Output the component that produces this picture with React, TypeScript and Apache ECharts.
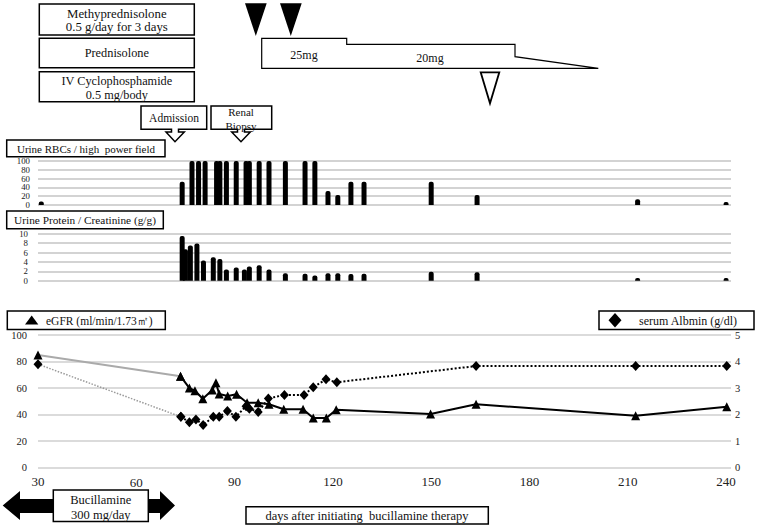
import React, { useEffect, useRef } from "react";
import * as echarts from "echarts";

const FONT = "'Liberation Serif', 'Times New Roman', serif";

// Urine RBCs / high power field
const rbcDays = [31, 74, 77, 79, 81, 84.5, 85.5, 87.5, 90.5, 93.5, 94.5, 97.5, 100.5, 105.5, 111.5, 114.5, 118.5, 121.5, 125.5, 129.5, 150, 164, 213, 240];
const rbcValues = [8, 53, 100, 100, 100, 100, 100, 100, 100, 100, 100, 100, 100, 100, 100, 100, 32, 23, 53, 53, 53, 23, 13, 7];

// Urine Protein / Creatinine (g/g)
const protDays = [74, 75, 76.5, 78.5, 80.5, 83.5, 85.5, 87.5, 90.5, 93, 94.5, 97.5, 100.5, 105.5, 111.5, 114.5, 118.5, 121.5, 125.5, 129.5, 150, 164, 213, 240];
const protValues = [9.5, 6.7, 7.5, 7.9, 4.3, 5.0, 4.6, 2.4, 2.8, 2.4, 3.0, 3.3, 2.4, 1.6, 1.5, 1.1, 1.6, 1.6, 1.4, 1.5, 1.9, 1.8, 0.6, 0.6];

// eGFR (ml/min/1.73m2)
const egfrPreDays = [30, 73.5];
const egfrPreValues = [85, 69];
const egfrDays = [73.5, 76.2, 77.9, 80.3, 83.2, 84.3, 85.3, 87.9, 90.6, 93.8, 97.2, 100.5, 105, 110.9, 114, 118, 121, 149.8, 163.7, 212.4, 240.2];
const egfrValues = [69, 60, 58, 52, 58.5, 64, 55.5, 54, 55.3, 49, 49, 47.8, 44, 44, 37.5, 37.5, 43.7, 40.5, 47.8, 39.2, 46];

// serum Albumin (g/dl)
const albPreDays = [30, 73.6];
const albPreValues = [3.9, 1.92];
const albDays = [73.6, 76.2, 78.2, 80.4, 83.5, 85.3, 87.8, 90.4, 93.5, 94.5, 97.2, 100.3, 105.2, 111.2, 114, 117.9, 121.2, 163.7, 212.4, 240.2];
const albValues = [1.92, 1.71, 1.82, 1.61, 1.92, 1.92, 2.14, 1.92, 2.32, 2.22, 2.1, 2.61, 2.74, 2.74, 3.03, 3.33, 3.22, 3.83, 3.83, 3.83];

// tick labels (split in alternating sets so that none is dropped)
const xTicksA = [30, 90, 150, 210];
const xTicksB = [120, 180, 240];
const xTicksC = [60];
const rbcTicksA = [0, 40, 80];
const rbcTicksB = [20, 60, 100];
const protTicksA = [0, 4, 8];
const protTicksB = [2, 6, 10];

const X_MIN = 30;
const X_MAX = 241.5;
const GRID_LEFT = 38;
const GRID_WIDTH = 693;
const LINE_TOP = 335;
const LINE_HEIGHT = 132.7;

const pair = (xs: number[], ys: number[]) => xs.map((x, i) => [x, ys[i]]);

const rect = (x: number, y: number, w: number, h: number, lw = 1.5) => ({
  type: "rect",
  z: 100,
  shape: { x, y, width: w, height: h },
  style: { fill: "#fff", stroke: "#000", lineWidth: lw },
});
const txt = (x: number, y: number, text: string, size = 12, align = "center") => ({
  type: "text",
  z: 101,
  x,
  y,
  style: { text, fontSize: size, fontFamily: FONT, fill: "#111", align, verticalAlign: "middle" },
});
const poly = (pts: number[][], fill: string, lw = 1.5) => ({
  type: "polygon",
  z: 100,
  shape: { points: pts },
  style: { fill, stroke: "#000", lineWidth: lw },
});

export default function App() {
  const ref = useRef<HTMLDivElement>(null);
  useEffect(() => {
    document.body.style.margin = "0";
    const chart = echarts.init(ref.current!, null, { renderer: "svg" });
    const xBase = {
      type: "value",
      min: X_MIN,
      max: X_MAX,
      interval: 30,
      axisLine: { show: false },
      axisTick: { show: false },
      splitLine: { show: false },
    };
    const grids = [
      { left: GRID_LEFT, top: 161, width: GRID_WIDTH, height: 44 },
      { left: GRID_LEFT, top: 233.7, width: GRID_WIDTH, height: 47 },
      { left: GRID_LEFT, top: LINE_TOP, width: GRID_WIDTH, height: LINE_HEIGHT },
    ];
    const splitGray = { show: true, lineStyle: { color: "#c4c4c4", width: 1.5 } };
    const smallLabel = {
      fontSize: 8.8,
      lineHeight: 8,
      fontFamily: FONT,
      color: "#222",
      hideOverlap: false,
      showMinLabel: true,
      showMaxLabel: true,
    };
    const xLabel = {
      show: true,
      fontSize: 13,
      lineHeight: 11,
      fontFamily: FONT,
      color: "#222",
      margin: 8,
      hideOverlap: false,
      showMinLabel: true,
      showMaxLabel: true,
    };
    const yNo = { axisLine: { show: false }, axisTick: { show: false } };
    // the "60" tick label, placed on the same linear day scale as the axis
    const xToPx = (v: number) => GRID_LEFT + ((v - X_MIN) / (X_MAX - X_MIN)) * GRID_WIDTH;
    const tickTexts = xTicksC.map((v) => ({
      type: "text",
      z: 200,
      x: xToPx(v),
      y: LINE_TOP + LINE_HEIGHT + 14.5,
      style: { text: String(v), fontSize: 13, fontFamily: FONT, fill: "#222", align: "center", verticalAlign: "middle" },
    }));
    const graphics: any[] = [
      // treatment boxes
      rect(39.3, 4, 155, 31),
      txt(116.8, 13.5, "Methyprednisolone", 12.8),
      txt(116.8, 27, "0.5 g/day for 3 days", 12.8),
      rect(39.3, 38.3, 155, 29.4),
      txt(116.8, 53.3, "Prednisolone", 12.3),
      rect(39.3, 71.7, 155, 30),
      txt(116.8, 80.5, "IV Cyclophosphamide", 12.3),
      txt(116.8, 95, "0.5 mg/body", 12.3),
      // methylprednisolone pulses
      { type: "polygon", z: 100, shape: { points: [[245, 3.3], [266.7, 3.3], [255.8, 36]] }, style: { fill: "#000" } },
      { type: "polygon", z: 100, shape: { points: [[280, 3.3], [301.7, 3.3], [290.8, 36]] }, style: { fill: "#000" } },
      // prednisolone taper
      poly([[261.7, 68.3], [261.7, 38.3], [346.7, 38.3], [346.7, 44.3], [515, 44.3], [515, 56.7], [598.3, 68.3]], "#fff", 1.2),
      txt(304, 55, "25mg"),
      txt(430, 58, "20mg"),
      // cyclophosphamide
      poly([[480.7, 72.3], [499.3, 72.3], [490, 103.3]], "#fff", 1.8),
      // admission / renal biopsy callouts
      poly([[141, 106], [206.7, 106], [206.7, 129.3], [178.5, 129.3], [178.5, 132], [184.3, 132], [175, 141.7], [166, 132], [171.5, 132], [171.5, 129.3], [141, 129.3]], "#fff", 1.5),
      txt(174, 117.5, "Admission", 11.5),
      poly([[211, 106], [271.7, 106], [271.7, 129.3], [244.5, 129.3], [244.5, 132], [250.3, 132], [241, 141.7], [231.7, 132], [237.5, 132], [237.5, 129.3], [211, 129.3]], "#fff", 1.5),
      txt(241, 111.5, "Renal", 11),
      txt(241, 125.5, "Biopsy", 11),
      // panel titles
      rect(6.7, 140, 158.3, 16.7),
      txt(86, 148.5, "Urine RBCs / high  power field", 11),
      rect(6.7, 211, 156.6, 17.7),
      txt(85, 220, "Urine Protein / Creatinine (g/g)", 11.3),
      // legends
      rect(7.3, 311, 158, 18.5),
      { type: "polygon", z: 101, shape: { points: [[25, 324.5], [38.3, 324.5], [31.7, 315.5]] }, style: { fill: "#000" } },
      txt(46, 320.5, "eGFR (ml/min/1.73㎡)", 11.5, "left"),
      rect(599, 311, 155, 18.5),
      { type: "polygon", z: 101, shape: { points: [[615, 313], [621.5, 320.2], [615, 327.4], [608.5, 320.2]] }, style: { fill: "#000" } },
      txt(639, 320.5, "serum Albmin (g/dl)", 12, "left"),
      // bucillamine arrow
      { type: "polygon", z: 100, shape: { points: [[2.7, 505.5], [20, 491], [20, 499], [160, 499], [160, 491], [175, 505.5], [160, 520], [160, 513], [20, 513], [20, 520]] }, style: { fill: "#000" } },
      rect(53.3, 490, 95, 31.5),
      txt(100.8, 499.5, "Bucillamine", 12.5),
      txt(100.8, 514.5, "300 mg/day", 12.5),
      // x-axis title
      rect(246, 506.7, 242.3, 17.3),
      txt(367, 515.5, "days after initiating  bucillamine therapy", 12.5),
      ...tickTexts,
    ];
    const option: any = {
      animation: false,
      backgroundColor: "#fff",
      textStyle: { fontFamily: FONT },
      grid: grids,
      xAxis: [
        { ...xBase, gridIndex: 0, axisLabel: { show: false } },
        { ...xBase, gridIndex: 1, axisLabel: { show: false } },
        { ...xBase, gridIndex: 2, axisLabel: { ...xLabel, customValues: xTicksA } },
        { ...xBase, gridIndex: 2, position: "bottom", axisLabel: { ...xLabel, customValues: xTicksB } },
      ],
      yAxis: [
        {
          type: "value", gridIndex: 0, min: 0, max: 100, interval: 20, ...yNo,
          axisLabel: { ...smallLabel, margin: 8, customValues: rbcTicksA },
          splitLine: splitGray,
        },
        {
          type: "value", gridIndex: 1, min: 0, max: 10, interval: 2, ...yNo,
          axisLabel: { ...smallLabel, margin: 10, customValues: protTicksA },
          splitLine: splitGray,
        },
        {
          type: "value", gridIndex: 2, min: 0, max: 100, interval: 20, ...yNo,
          axisLabel: { fontSize: 10.5, fontFamily: FONT, color: "#222", margin: 11 },
          splitLine: { show: true, lineStyle: { color: "#cfcfcf", width: 1.5 } },
        },
        {
          type: "value", gridIndex: 2, position: "right", min: 0, max: 5, interval: 1, ...yNo,
          axisLabel: { fontSize: 10.5, fontFamily: FONT, color: "#222", margin: 4 },
          splitLine: { show: false },
        },
        {
          type: "value", gridIndex: 0, position: "left", min: 0, max: 100, interval: 20, ...yNo,
          axisLabel: { ...smallLabel, margin: 8, customValues: rbcTicksB },
          splitLine: { show: false },
        },
        {
          type: "value", gridIndex: 1, position: "left", min: 0, max: 10, interval: 2, ...yNo,
          axisLabel: { ...smallLabel, margin: 10, customValues: protTicksB },
          splitLine: { show: false },
        },
      ],
      series: [
        {
          type: "bar", xAxisIndex: 0, yAxisIndex: 0, barWidth: 5,
          data: pair(rbcDays, rbcValues),
          itemStyle: { color: "#000", borderRadius: [2, 2, 0, 0] },
        },
        {
          type: "bar", xAxisIndex: 1, yAxisIndex: 1, barWidth: 5,
          data: pair(protDays, protValues),
          itemStyle: { color: "#000", borderRadius: [2, 2, 0, 0] },
        },
        {
          type: "line", xAxisIndex: 2, yAxisIndex: 2,
          data: pair(egfrPreDays, egfrPreValues),
          symbol: "triangle", symbolSize: 9,
          itemStyle: { color: "#000" },
          lineStyle: { color: "#aaaaaa", width: 2 },
        },
        {
          type: "line", xAxisIndex: 2, yAxisIndex: 3,
          data: pair(albPreDays, albPreValues),
          symbol: "diamond", symbolSize: [9, 10],
          itemStyle: { color: "#000" },
          lineStyle: { color: "#9a9a9a", width: 1.5, type: "dotted" },
        },
        {
          type: "line", xAxisIndex: 2, yAxisIndex: 3,
          data: pair(albDays, albValues),
          symbol: "diamond", symbolSize: [9, 10],
          itemStyle: { color: "#000" },
          lineStyle: { color: "#000", width: 2, type: "dotted" },
        },
        {
          type: "line", xAxisIndex: 2, yAxisIndex: 2,
          data: pair(egfrDays, egfrValues),
          symbol: "triangle", symbolSize: 9,
          itemStyle: { color: "#000" },
          lineStyle: { color: "#000", width: 2 },
        },
      ],
      graphic: graphics,
    };
    chart.setOption(option);
    return () => chart.dispose();
  }, []);
  return <div ref={ref} style={{ width: 758, height: 528 }} />;
}
